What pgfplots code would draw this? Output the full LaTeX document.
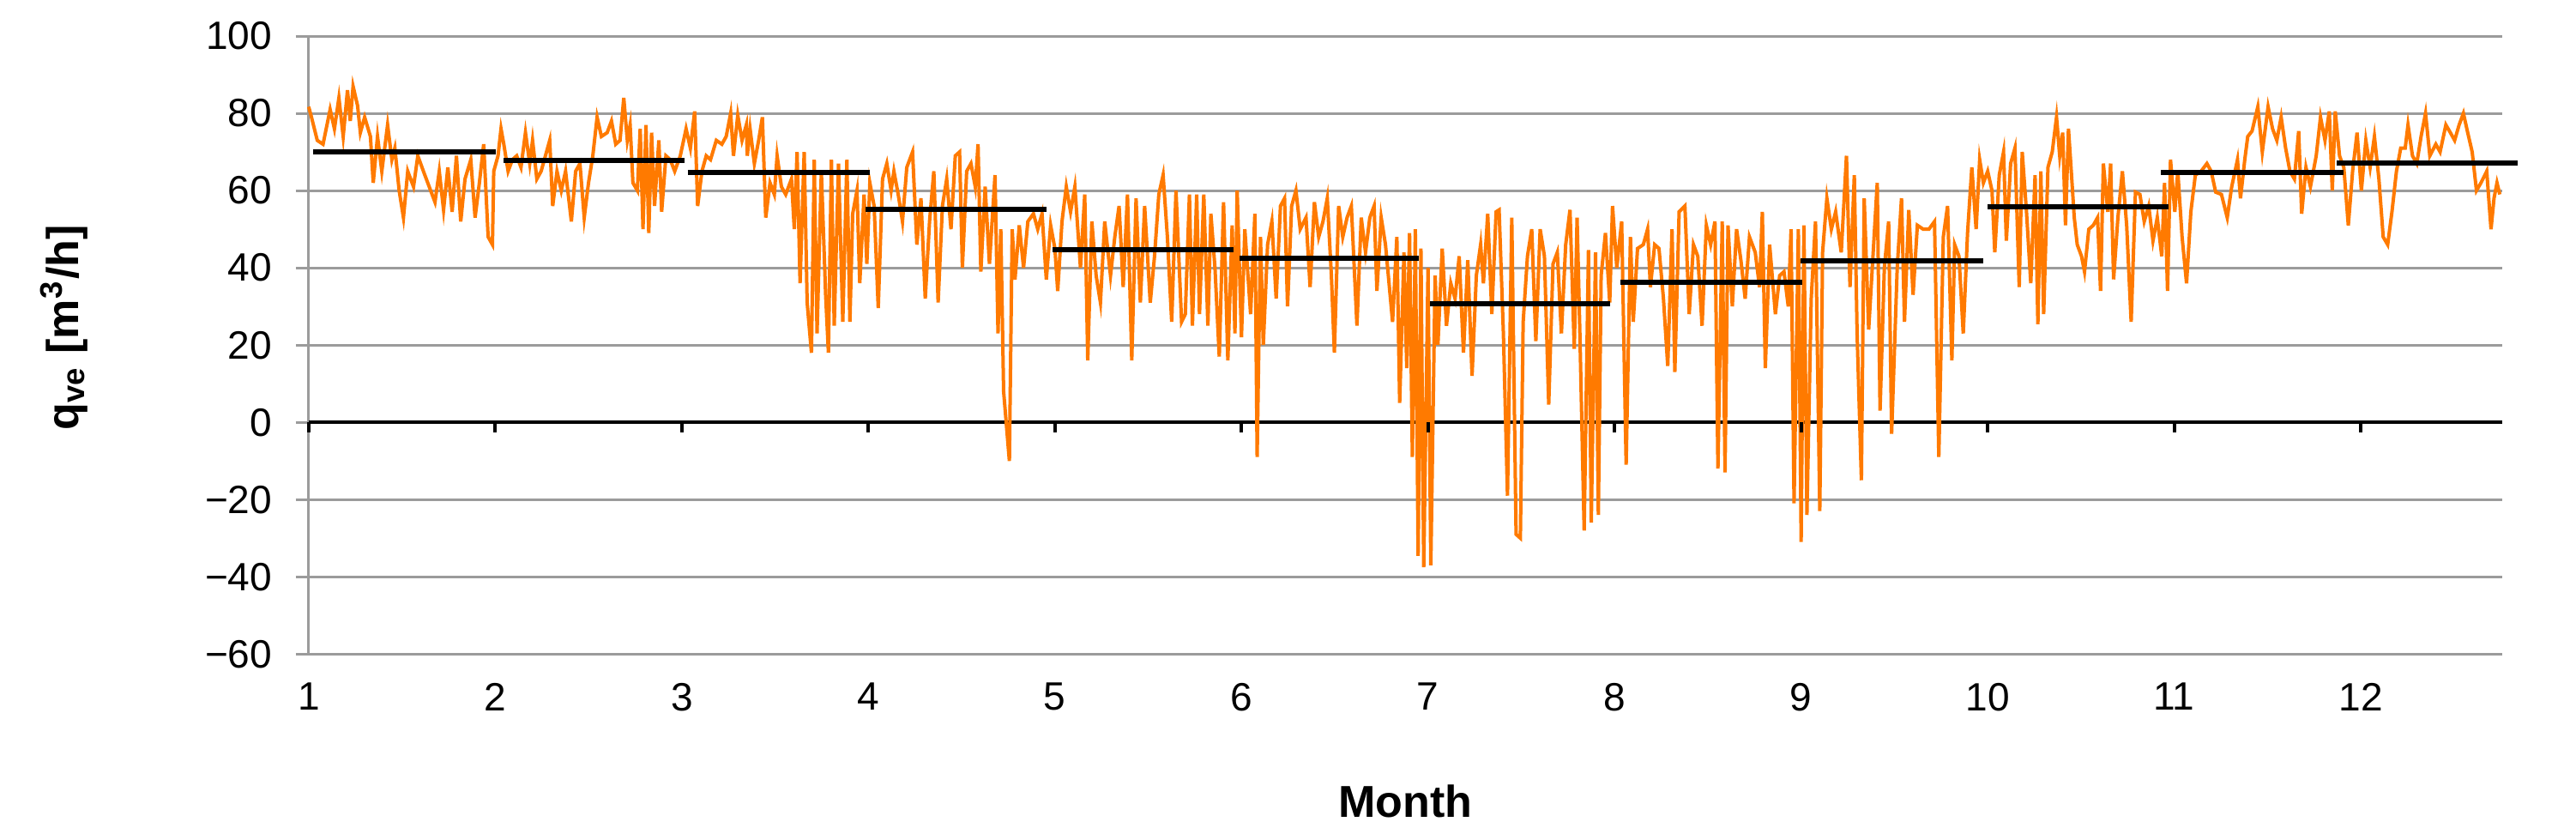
\documentclass[border=0pt]{standalone}
\usepackage{pgfplots}
\pgfplotsset{compat=1.18}
\usepackage{fontspec}
\setmainfont{Liberation Sans}
\definecolor{qorange}{RGB}{255,122,0}
\definecolor{gridgray}{RGB}{155,155,155}
\begin{document}
\begin{tikzpicture}
\begin{axis}[
  scale only axis, width=511pt, height=143.9pt,
  xmin=1, xmax=12.76, ymin=-60, ymax=100,
  axis lines*=left,
  x axis line style={draw=none},
  y axis line style={gridgray, line width=0.6pt},
  xtick={1,2,3,4,5,6,7,8,9,10,11,12},
  ytick={-60,-40,-20,0,20,40,60,80,100},
  yticklabels={−60,−40,−20,0,20,40,60,80,100},
  xtick style={draw=none},
  ytick style={gridgray, line width=0.6pt},
  tick align=outside, major tick length=3pt,
  ymajorgrids, grid style={gridgray, line width=0.6pt},
  /pgf/number format/assume math mode=true,
  tick label style={font=\fontsize{9.2}{11}\selectfont},
  yticklabel style={xshift=-2.0pt},
  xticklabel style={yshift=-0.2pt},
  xlabel={\textbf{Month}},
  xlabel style={at={(axis description cs:0.5,0)}, anchor=center, yshift=-34.2pt, font=\fontsize{10.4}{12}\selectfont},
  ylabel={\textbf{q\textsubscript{ve} [m\textsuperscript{3}/h]}},
  ylabel style={at={(axis description cs:-0.1115,0.528)}, anchor=center, font=\fontsize{10.4}{12}\selectfont},
  clip=false,
  unbounded coords=jump,
]
% zero axis line
\addplot[black, line width=0.9pt] coordinates {(1,0) (12.76,0)};
% measured series
\addplot[qorange, line width=0.8pt] table {
x y
1.000 81.7
1.015 79
1.046 73
1.077 72
1.115 81
1.138 76
1.162 84
1.185 74
1.208 86
1.223 78
1.238 87
1.262 82
1.277 75
1.300 79
1.331 74
1.346 62
1.369 74
1.392 65
1.423 77
1.446 68
1.462 71
1.485 60
1.508 53
1.531 65
1.562 61
1.585 69
1.615 65
1.646 61
1.677 57
1.700 65
1.723 55
1.746 66
1.769 54.5
1.792 69
1.815 52
1.838 63
1.869 68
1.892 53
1.915 62
1.938 72
1.962 48
1.985 46
1.992 65
2.015 69
2.031 76
2.046 72
2.069 65
2.092 68
2.115 69
2.138 66
2.162 75
2.185 67
2.200 73
2.223 63
2.246 65
2.269 69
2.292 73
2.308 56
2.331 65
2.354 60
2.377 65
2.408 52
2.431 65
2.454 67
2.477 53
2.500 62
2.523 69
2.546 79
2.569 74
2.600 75
2.623 78
2.646 72
2.669 73
2.689 84
2.708 73
2.723 77
2.738 62
2.762 60
2.777 76
2.792 50
2.808 77
2.823 49
2.838 75
2.854 56
2.877 73
2.892 54.5
2.915 69
2.938 68
2.962 65
2.992 69
3.023 76
3.046 71
3.069 80.5
3.085 56
3.108 65
3.131 69
3.154 68
3.185 73
3.215 72
3.238 74
3.262 80
3.277 69
3.300 79.5
3.323 73
3.346 77
3.351 69
3.366 76
3.389 67
3.412 73
3.432 79
3.450 53
3.473 62
3.496 59
3.511 69
3.534 61
3.557 59
3.588 63
3.603 50
3.618 70
3.634 36
3.656 70
3.672 31
3.695 18
3.710 68
3.725 23
3.748 65
3.771 33
3.786 18
3.802 68
3.817 25
3.840 67
3.863 26
3.885 68
3.901 26
3.916 54
3.939 60
3.954 36
3.977 59
3.992 41
4.008 62
4.031 56
4.053 29.6
4.076 63
4.099 67
4.122 60
4.137 65
4.160 59
4.183 52
4.206 66
4.237 70
4.260 46
4.282 58
4.305 32
4.328 52
4.351 65
4.374 31
4.397 56
4.420 63
4.443 50
4.466 69
4.489 70
4.504 40
4.527 65
4.550 67
4.573 61
4.588 72
4.603 39
4.626 61
4.649 41
4.679 64
4.695 23
4.710 50
4.725 8
4.756 -10
4.771 50
4.786 37
4.809 51
4.832 40
4.855 52
4.885 54
4.908 50
4.931 54
4.954 37
4.977 51
5.000 45
5.015 34
5.038 52
5.061 61
5.084 54.5
5.107 61
5.137 40
5.160 59
5.176 16
5.198 52
5.221 38
5.244 31
5.267 52
5.298 38
5.321 48
5.344 56
5.366 35
5.389 59
5.412 16
5.435 58
5.458 31
5.481 56
5.511 31
5.534 43
5.557 59
5.580 64
5.603 48
5.626 26
5.649 60
5.679 26
5.699 28
5.721 59
5.737 25
5.760 59
5.775 28
5.798 59
5.820 25
5.836 54
5.858 40
5.881 17
5.904 57
5.927 16
5.950 51
5.965 23
5.977 60
6.000 22
6.018 50
6.049 28
6.072 54
6.084 -9
6.102 48
6.117 20
6.140 46
6.163 52
6.186 32
6.209 56
6.231 58
6.247 30
6.269 56
6.292 60
6.315 50
6.346 53
6.368 35
6.391 57
6.414 48
6.437 52
6.460 58
6.482 38
6.498 18
6.521 56
6.543 48
6.566 53
6.589 56
6.619 25
6.642 53
6.665 44
6.688 53
6.711 56
6.726 34
6.749 53
6.772 46
6.810 26
6.833 48
6.848 5
6.871 44
6.886 14
6.901 49
6.916 -9
6.932 50
6.947 -34.6
6.962 45
6.977 -37.5
7.000 40
7.015 -37
7.038 38
7.053 20
7.076 45
7.099 25
7.122 36
7.145 32
7.167 43
7.190 18
7.213 42
7.236 12
7.259 38
7.282 46
7.297 36
7.320 54
7.342 28
7.365 54.5
7.381 55
7.404 23
7.426 -19
7.449 53
7.472 -29
7.495 -30
7.510 26
7.533 43
7.556 50
7.578 21
7.601 50
7.624 43
7.647 4.6
7.670 41
7.693 44
7.715 23
7.738 46
7.761 55
7.784 19
7.799 53
7.814 23
7.837 -28
7.860 44.6
7.875 -26
7.898 44
7.913 -24
7.928 38
7.951 49
7.974 31
7.989 56
8.012 40
8.038 52
8.062 -11
8.085 48
8.100 26
8.123 45
8.154 46
8.177 50
8.192 35
8.215 46
8.238 45
8.262 32
8.285 14.6
8.308 50
8.323 13
8.346 54.5
8.377 56
8.400 28
8.423 46
8.446 43
8.469 25
8.492 51
8.515 46
8.538 52
8.554 -12
8.577 52
8.592 -13
8.608 51
8.631 30
8.654 50
8.677 42
8.700 32
8.723 48
8.754 44
8.777 35
8.792 54.5
8.808 14
8.831 46
8.862 28
8.885 38
8.908 39
8.931 30
8.946 50
8.962 -21
8.985 50
9.000 -31
9.015 51
9.031 -24
9.054 32
9.077 52
9.100 -23
9.115 44
9.138 58
9.162 50
9.185 54.5
9.215 44
9.243 69
9.262 35
9.285 64
9.300 23
9.323 -15
9.338 58
9.362 24
9.385 43
9.408 62
9.423 3
9.446 40
9.469 52
9.485 -3
9.515 40
9.538 58
9.554 26
9.577 55
9.600 33
9.623 51
9.654 50
9.685 50
9.715 52
9.738 -9
9.762 48
9.785 56
9.808 16
9.823 46
9.846 43
9.869 23
9.892 49
9.915 66
9.938 50
9.957 68
9.977 62
10.000 65
10.023 60
10.038 44
10.062 64
10.085 70
10.100 47
10.123 67
10.146 71
10.169 35
10.185 70
10.208 54.5
10.231 36
10.254 64
10.269 25.4
10.285 65
10.300 28
10.323 66
10.346 70
10.369 79
10.386 69
10.402 75
10.417 51
10.433 76
10.448 65
10.464 53
10.480 46
10.503 43
10.519 39
10.542 50
10.566 51
10.589 53
10.605 34
10.620 67
10.644 54.5
10.659 67
10.675 37
10.698 53
10.722 65
10.745 51
10.769 26
10.792 59.6
10.816 59
10.839 52
10.863 56
10.886 47
10.909 53
10.933 43
10.948 62
10.964 34
10.980 68
11.003 54.5
11.019 65
11.042 48
11.066 36
11.089 54.5
11.113 64
11.144 65
11.175 67
11.198 65
11.222 59.6
11.253 59
11.284 53
11.308 61
11.339 68
11.355 58
11.378 68
11.394 74
11.417 75.4
11.448 81.7
11.472 70
11.503 81.7
11.527 76
11.550 73
11.573 79
11.597 71
11.620 65
11.644 63
11.667 75.4
11.683 54
11.706 66
11.730 61
11.761 69
11.784 79
11.808 73
11.831 80.5
11.847 60
11.863 80.5
11.886 69
11.909 66
11.933 51
11.956 65
11.980 75
12.003 60
12.027 73
12.050 66
12.073 74
12.097 63
12.120 48
12.144 46
12.167 54.5
12.191 65
12.214 71
12.238 71
12.253 77
12.277 69
12.300 67
12.323 74
12.347 80
12.370 69
12.402 72
12.425 70
12.456 77
12.480 75
12.503 73
12.527 77
12.550 80
12.573 75
12.597 70
12.620 60
12.644 62
12.675 65
12.698 50
12.714 58
12.730 62
12.745 59
};
% monthly means
\addplot[black, line width=1.2pt] table {
x y
1.023 70
2.003 70
2.003 nan
2.046 67.7
3.015 67.7
3.015 nan
3.031 64.6
4.008 64.6
4.008 nan
3.985 55.2
4.954 55.2
4.954 nan
4.985 44.8
5.957 44.8
5.957 nan
5.988 42.4
6.951 42.4
6.951 nan
7.012 30.6
7.974 30.6
7.974 nan
8.030 36.2
9.008 36.2
9.008 nan
8.997 41.7
9.974 41.7
9.974 nan
9.997 55.8
10.969 55.8
10.969 nan
10.928 64.7
11.906 64.7
11.906 nan
11.870 67.1
12.840 67.1
};
\pgfplotsinvokeforeach{1,2,3,4,5,6,7,8,9,10,11,12}{
  \draw[black, line width=0.8pt] (axis cs:#1,0) -- ++(0pt,-2.4pt);
}
\end{axis}
\pgfresetboundingbox
\path[use as bounding box] (-71.9pt,-43.2pt) rectangle (528.1pt,152.3pt);
\end{tikzpicture}
\end{document}
